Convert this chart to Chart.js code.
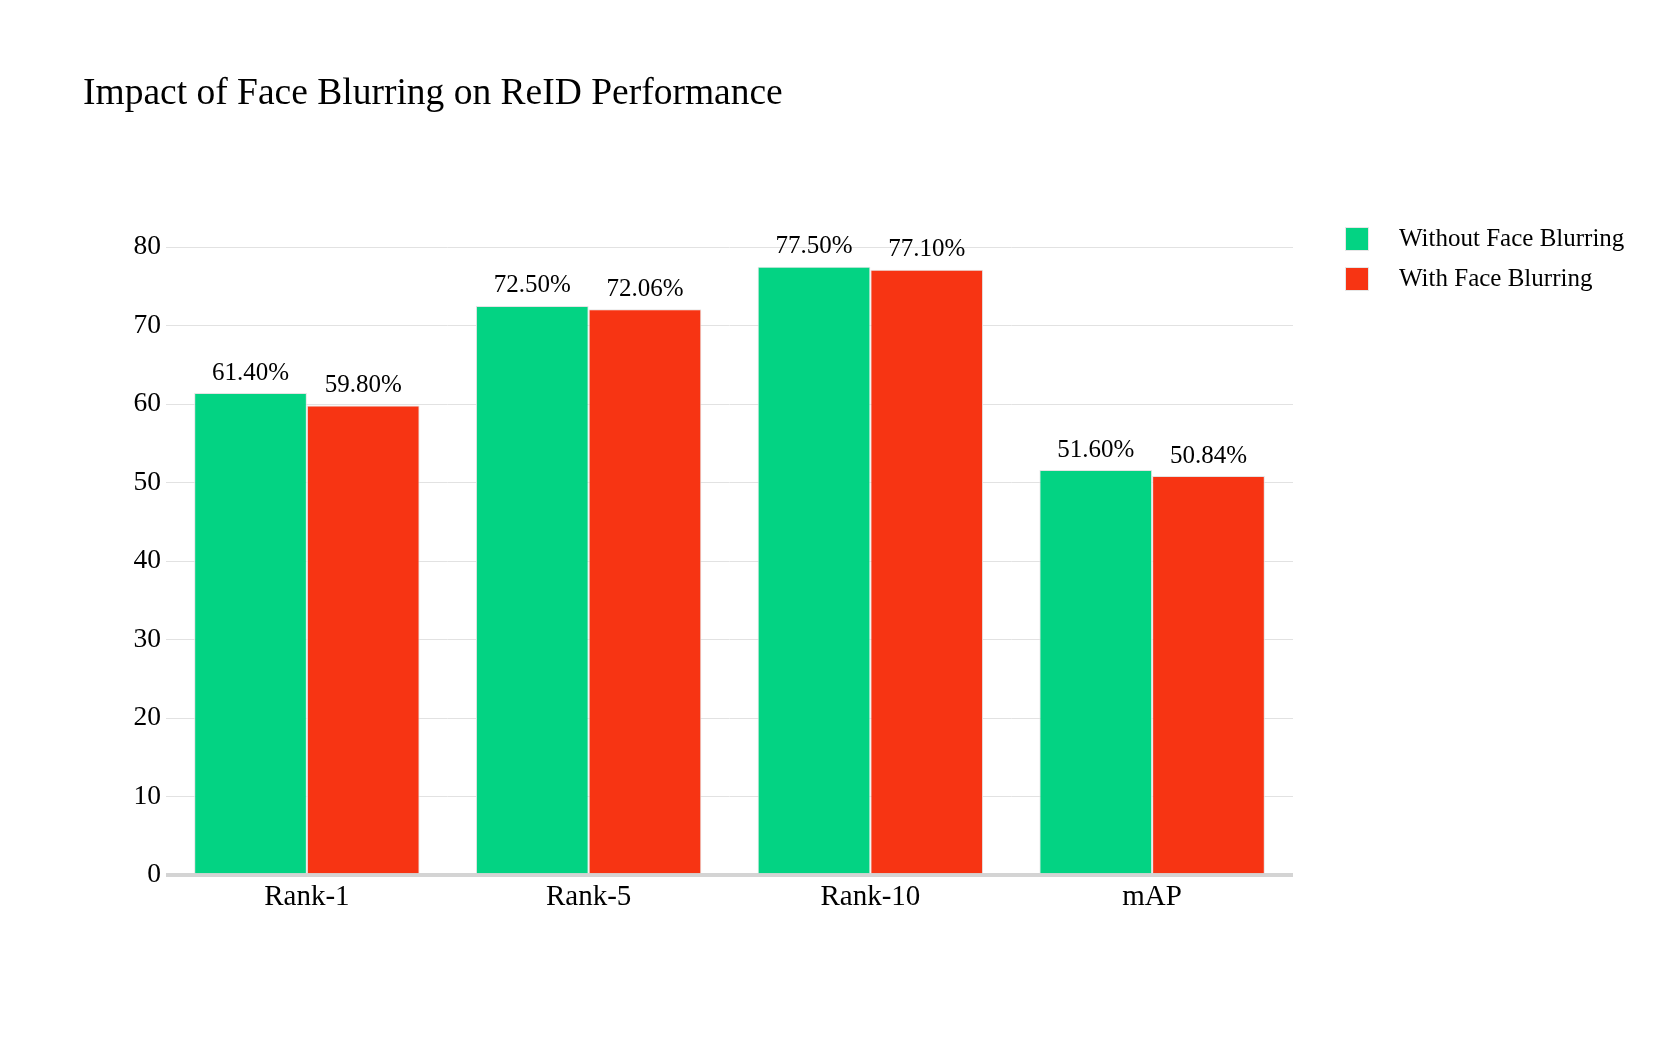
<!DOCTYPE html>
<html>
<head>
<meta charset="utf-8">
<script src="https://cdn.jsdelivr.net/npm/chart.js@4/dist/chart.umd.min.js"></script>
<style>
  html, body { margin: 0; padding: 0; background: #fff; }
  #wrap { width: 1661px; height: 1038px; }
</style>
</head>
<body>
<div id="wrap"><canvas id="chart"></canvas></div>
<script>
const categories = ['Rank-1', 'Rank-5', 'Rank-10', 'mAP'];
const withoutBlur = [61.40, 72.50, 77.50, 51.60];
const withBlur = [59.80, 72.06, 77.10, 50.84];
const seriesNames = ['Without Face Blurring', 'With Face Blurring'];
const yTicks = [0, 10, 20, 30, 40, 50, 60, 70, 80];

const GREEN = '#03d383';
const RED = '#f73413';
const FONT = '"Liberation Serif", "Times New Roman", serif';

// etiquetas de valor encima de cada barra
const valueLabels = {
    id: 'valueLabels',
    afterDatasetsDraw(chart) {
        const ctx = chart.ctx;
        ctx.save();
        ctx.font = '25px ' + FONT;
        ctx.fillStyle = '#000';
        ctx.textAlign = 'center';
        ctx.textBaseline = 'middle';
        chart.data.datasets.forEach((ds, i) => {
            chart.getDatasetMeta(i).data.forEach((bar, j) => {
                ctx.fillText(ds.data[j].toFixed(2) + '%', bar.x, bar.y - 20);
            });
        });
        ctx.restore();
    }
};

// leyenda a la derecha
const sideLegend = {
    id: 'sideLegend',
    afterDraw(chart) {
        const ctx = chart.ctx;
        ctx.save();
        ctx.font = '25px ' + FONT;
        ctx.textBaseline = 'middle';
        ctx.textAlign = 'left';
        chart.data.datasets.forEach((ds, i) => {
            const cy = 239 + i * 40;
            ctx.fillStyle = ds.backgroundColor;
            ctx.fillRect(1345, cy - 12, 24, 24);
            ctx.strokeStyle = '#e6e6e6';
            ctx.lineWidth = 1;
            ctx.strokeRect(1345.5, cy - 11.5, 23, 23);
            ctx.fillStyle = '#000';
            ctx.fillText(ds.label, 1399, cy);
        });
        ctx.restore();
    }
};

new Chart(document.getElementById('chart'), {
    type: 'bar',
    data: {
        labels: categories,
        datasets: [{
            label: seriesNames[0],
            data: withoutBlur,
            backgroundColor: GREEN,
            borderColor: '#e4e4e4',
            borderWidth: 1,
            categoryPercentage: 0.8,
            barPercentage: 1.0
        }, {
            label: seriesNames[1],
            data: withBlur,
            backgroundColor: RED,
            borderColor: '#e4e4e4',
            borderWidth: 1,
            categoryPercentage: 0.8,
            barPercentage: 1.0
        }]
    },
    options: {
        responsive: true,
        maintainAspectRatio: false,
        animation: false,
        layout: {
            padding: { left: 83, right: 368, top: 0, bottom: 118 }
        },
        plugins: {
            legend: { display: false },
            tooltip: { enabled: false },
            title: {
                display: true,
                text: 'Impact of Face Blurring on ReID Performance',
                align: 'start',
                color: '#000',
                font: { family: FONT, size: 37.5, weight: 'normal' },
                padding: { top: 72, bottom: 130 }
            }
        },
        scales: {
            x: {
                border: { display: false },
                grid: { display: false, drawTicks: false },
                ticks: {
                    color: '#000',
                    padding: 5,
                    font: { family: FONT, size: 29 }
                }
            },
            y: {
                min: 0,
                max: 80,
                afterFit(scale) { scale.width = 83; },
                afterBuildTicks(scale) {
                    scale.ticks = yTicks.map(v => ({ value: v }));
                },
                border: { display: false },
                grid: {
                    drawTicks: false,
                    color: ctx => ctx.tick && ctx.tick.value === 0 ? '#d4d4d4' : '#e2e2e2',
                    lineWidth: ctx => ctx.tick && ctx.tick.value === 0 ? 4 : 1
                },
                ticks: {
                    color: '#000',
                    padding: 5,
                    font: { family: FONT, size: 27.5 }
                }
            }
        }
    },
    plugins: [valueLabels, sideLegend]
});
</script>
</body>
</html>
